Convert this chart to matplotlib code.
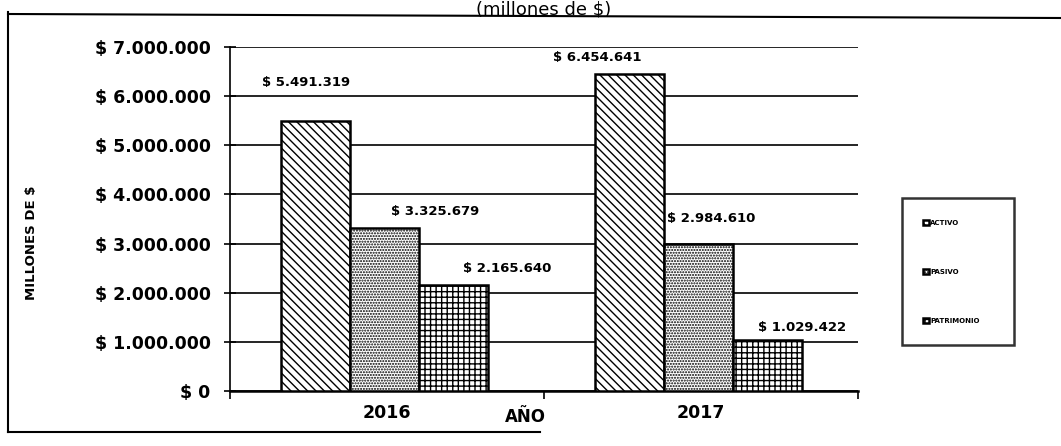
import matplotlib
matplotlib.use('Agg')
import matplotlib.pyplot as plt
from matplotlib.lines import Line2D
import numpy as np

# data
years = ['2016', '2017']
series = ['ACTIVO', 'PASIVO', 'PATRIMONIO']
activo = [5491319, 6454641]
pasivo = [3325679, 2984610]
patrimonio = [2165640, 1029422]
values = [activo, pasivo, patrimonio]

# styles
hatches = ['\\\\\\\\', '......', '+++']
# label offsets (x in category units, y in value units) - the labels float around in the original
label_dx = [[-0.03, -0.105], [0.16, 0.04], [0.17, 0.11]]
label_dy = [[780000, 330000], [320000, 520000], [330000, 270000]]

plt.rcParams['font.family'] = ['DejaVu Sans']
plt.rcParams['hatch.linewidth'] = 1.0

fig = plt.figure(figsize=(10.61, 4.46), dpi=100)
ax = fig.add_axes([0.2168, 0.1233, 0.5919, 0.7713])

x = np.arange(len(years))
width = 0.22
handles = []
for i, (name, vals) in enumerate(zip(series, values)):
    pos = x + (i - 1) * width - 0.007
    b = ax.bar(pos, vals, width, color='white', edgecolor='black', hatch=hatches[i],
               linewidth=1.8, label=name, zorder=3)
    handles.append(b)
    for j, v in enumerate(vals):
        txt = '$ ' + f'{v:,.0f}'.replace(',', '.')
        ax.text(pos[j] + label_dx[i][j], v + label_dy[i][j], txt, ha='center', va='center',
                fontsize=9.5, fontweight='bold', zorder=4)

ax.set_xlim(-0.5, 1.5)
ax.set_ylim(0, 7000000)
ax.set_yticks(np.arange(0, 7000001, 1000000))
ax.set_yticklabels(['$ ' + f'{t:,.0f}'.replace(',', '.') for t in np.arange(0, 7000001, 1000000)],
                   fontsize=12.5, fontweight='bold')
ax.set_xticks(x)
ax.set_xticklabels(years, fontsize=12.5, fontweight='bold')
ax.tick_params(axis='x', length=0, pad=9)
ax.set_xticks([-0.5, 0.5, 1.5], minor=True)
ax.tick_params(axis='x', which='minor', length=6, width=1.2, direction='out')
ax.tick_params(axis='y', length=8, width=1.2, direction='inout', pad=10)

ax.yaxis.grid(True, color='black', linewidth=1.2, zorder=0)
ax.set_axisbelow(True)
for s in ['top', 'right']:
    ax.spines[s].set_visible(False)
ax.spines['left'].set_linewidth(1.2)
ax.spines['bottom'].set_linewidth(1.8)

ax.set_xlabel('AÑO', fontsize=12, fontweight='bold')
ax.xaxis.set_label_coords(0.47, -0.05)
ax.set_ylabel('MILLONES DE $', fontsize=9.5, fontweight='bold')
ax.yaxis.set_label_coords(-0.305, 0.43)

# title sits right on the top edge of the scan
fig.text(0.512, 0.999, '(millones de $)', fontsize=13, ha='center', va='top')

leg = fig.legend(handles=handles, loc='upper left', bbox_to_anchor=(0.850, 0.229, 0.106, 0.327),
                 mode='expand', prop={'weight': 'bold', 'size': 5},
                 handlelength=0.8, handleheight=0.8, handletextpad=0.2,
                 labelspacing=6.2, borderpad=3.1, borderaxespad=0, fancybox=False)
leg.get_frame().set_edgecolor('black')
leg.get_frame().set_linewidth(1.8)

# outer frame as in the scan (left, top and part of the bottom)
fig.add_artist(Line2D([8 / 1061, 8 / 1061], [1 - 432 / 446, 1 - 12 / 446], transform=fig.transFigure,
                      color='black', linewidth=1.5))
fig.add_artist(Line2D([8 / 1061, 1.0], [1 - 14 / 446, 1 - 18 / 446], transform=fig.transFigure,
                      color='black', linewidth=1.5))
fig.add_artist(Line2D([8 / 1061, 540 / 1061], [1 - 432 / 446, 1 - 432 / 446], transform=fig.transFigure,
                      color='black', linewidth=1.5))

fig.savefig('out.png', dpi=100)
